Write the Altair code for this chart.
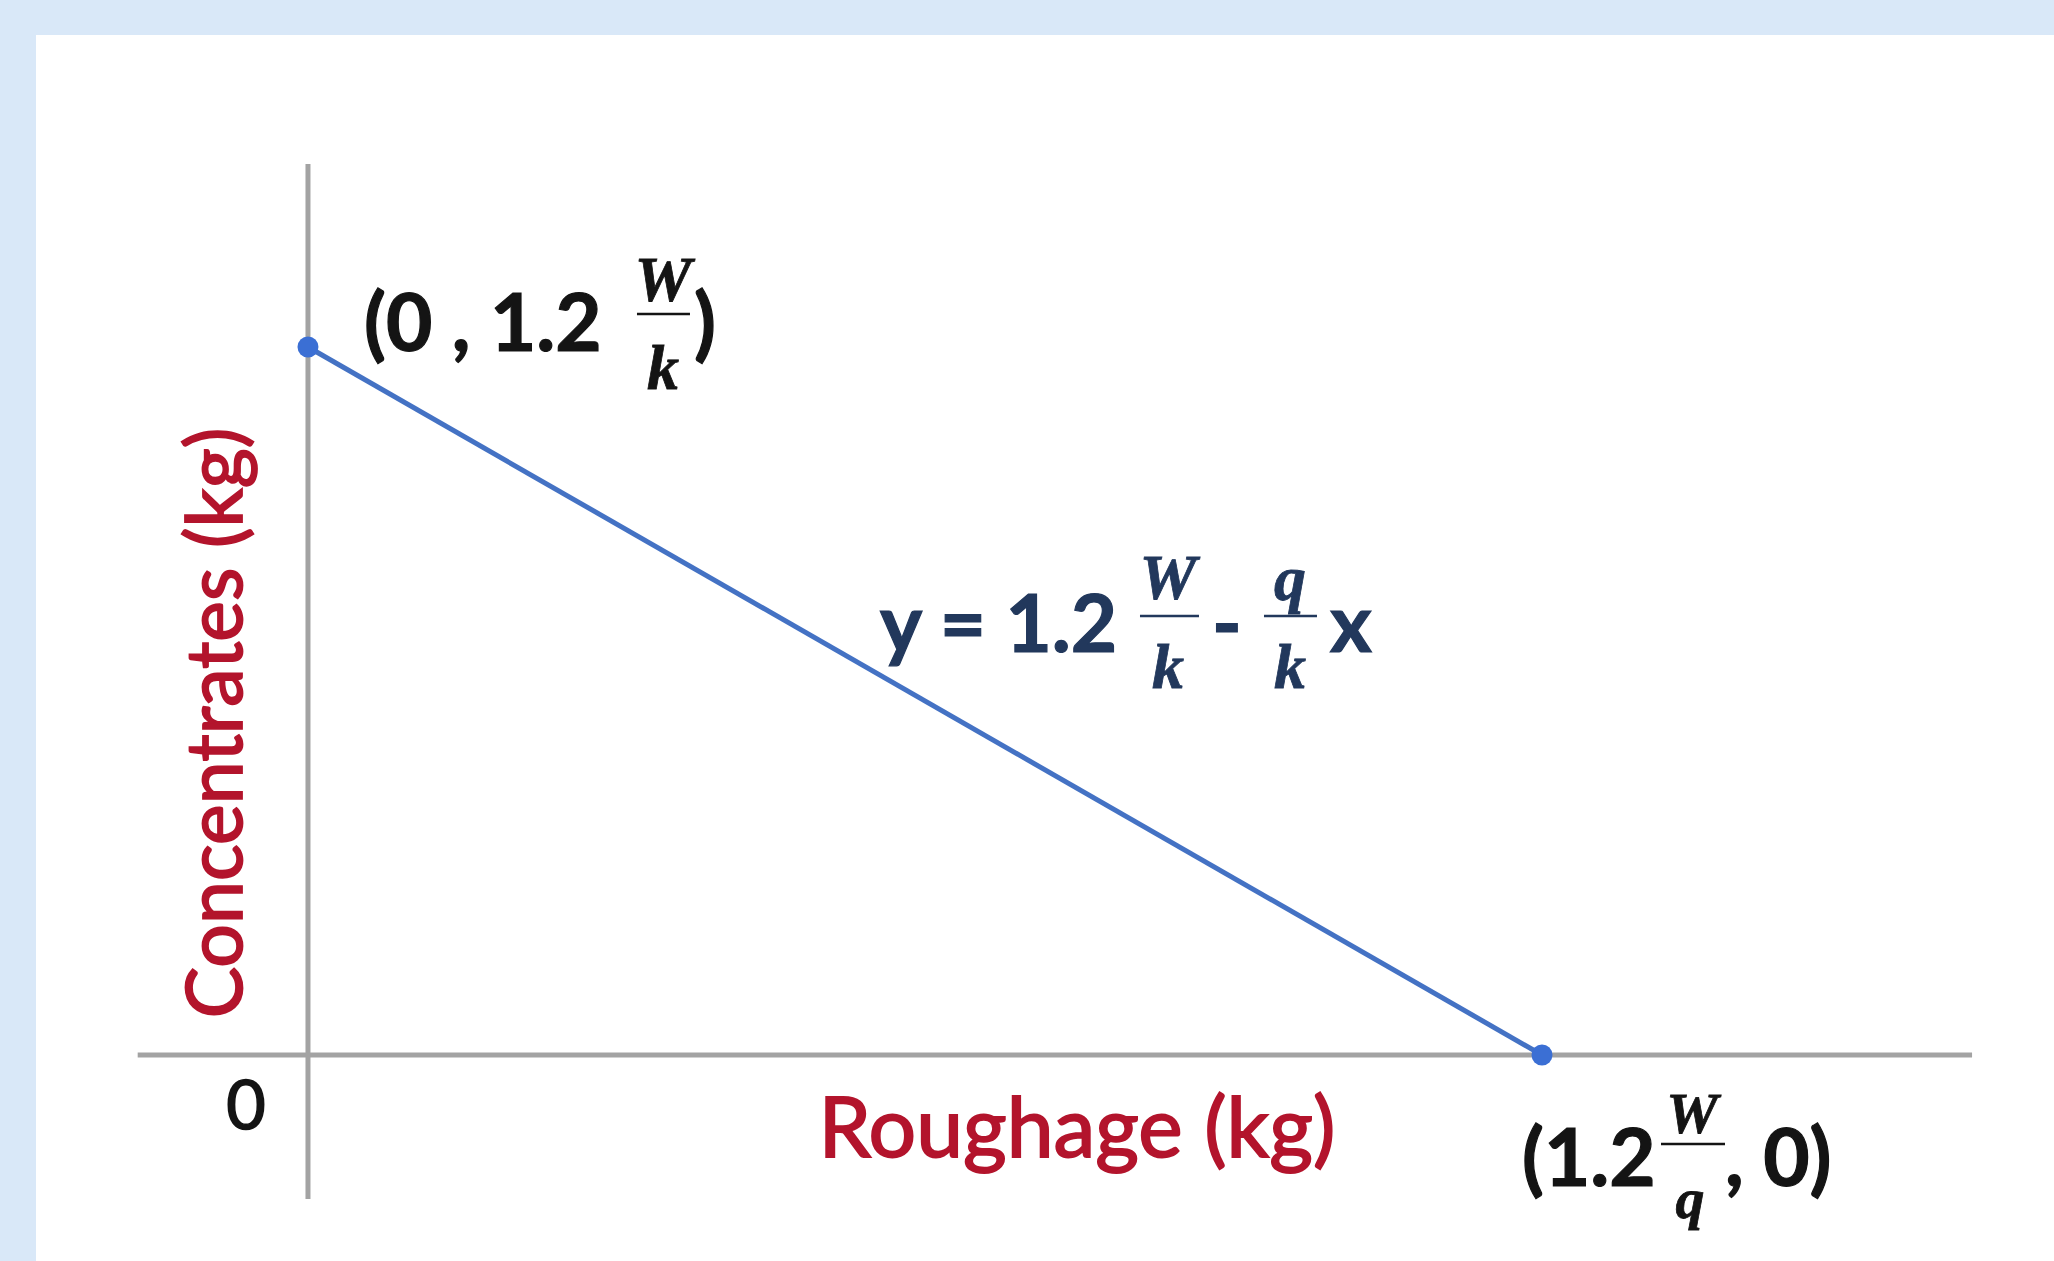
import altair as alt
import pandas as pd

# Budget line between roughage and concentrates, in units of the intercepts
# (0, 1.2·W/k) and (1.2·W/q, 0).
roughage_kg = [0.0, 1.0]
concentrates_kg = [1.0, 0.0]

# Extent of the two drawn axis lines (data units)
x_axis_span = [-0.138, 1.3485]
y_axis_span = [-0.2034, 1.2585]

X_DOMAIN = [-0.2204, 1.4149]
Y_DOMAIN = [-0.2910, 1.4407]

SANS = "Lato"
SERIF = "Liberation Serif"
BLACK = "#141414"
NAVY = "#22385c"
RED = "#b3142c"
BLUE = "#4472c4"
GREY = "#a3a3a3"

xs = alt.Scale(domain=X_DOMAIN, nice=False, zero=False)
ys = alt.Scale(domain=Y_DOMAIN, nice=False, zero=False)


def xenc():
    return alt.X("x:Q", scale=xs, axis=None)


def yenc():
    return alt.Y("y:Q", scale=ys, axis=None)


def point_df(px, py, text=""):
    return pd.DataFrame({"x": [px], "y": [py], "t": [text]})


def label(anchor, text, dx, dy, size, color=BLACK, font=SANS, weight="bold",
          style="normal", align="left", angle=0, heavy=1.2):
    return alt.Chart(point_df(anchor[0], anchor[1], text)).mark_text(
        dx=dx, dy=dy, fontSize=size, font=font, fontWeight=weight,
        fontStyle=style, color=color, align=align, baseline="alphabetic",
        angle=angle, stroke=color, strokeWidth=heavy,
    ).encode(x=xenc(), y=yenc(), text="t:N")


def frac_bar(anchor, dx1, dx2, dy, color=BLACK):
    return alt.Chart(point_df(anchor[0], anchor[1])).mark_rule(
        color=color, strokeWidth=2.5, xOffset=dx1, x2Offset=dx2, yOffset=dy,
    ).encode(x=xenc(), x2=alt.X2("x"), y=yenc())


def symbol(anchor, text, dx, dy, size, color=BLACK):
    return label(anchor, text, dx, dy, size, color=color, font=SERIF,
                 weight="bold", style="italic", align="center", heavy=0.8)


line_df = pd.DataFrame({"x": roughage_kg, "y": concentrates_kg})
origin = (0.0, 0.0)
top_pt = (roughage_kg[0], concentrates_kg[0])
end_pt = (roughage_kg[1], concentrates_kg[1])
mid_pt = ((roughage_kg[0] + roughage_kg[1]) / 2, (concentrates_kg[0] + concentrates_kg[1]) / 2)

# Axis lines crossing at the origin
h_axis = alt.Chart(pd.DataFrame({"x": [x_axis_span[0]], "x2": [x_axis_span[1]], "y": [0.0]})).mark_rule(
    color=GREY, strokeWidth=5
).encode(x=xenc(), x2="x2:Q", y=yenc())
v_axis = alt.Chart(pd.DataFrame({"y": [y_axis_span[0]], "y2": [y_axis_span[1]], "x": [0.0]})).mark_rule(
    color=GREY, strokeWidth=5
).encode(x=xenc(), y=yenc(), y2="y2:Q")

budget_line = alt.Chart(line_df).mark_line(color=BLUE, strokeWidth=5).encode(x=xenc(), y=yenc())
budget_pts = alt.Chart(line_df).mark_circle(color="#3b6fd4", size=440, opacity=1).encode(x=xenc(), y=yenc())

layers = [h_axis, v_axis, budget_line, budget_pts]

# Axis titles and zero
layers += [
    label(origin, "0", -62, 74, 68, weight="normal", align="center", heavy=1.6),
    label(origin, "Roughage (kg)", 769, 102, 84, color=RED, weight="normal", align="center", heavy=1.8),
    label(origin, "Concentrates (kg)", 332, -66, 77, color=RED, weight="normal",
          align="center", angle=270, heavy=1.8),
]

# (0 , 1.2 W/k)
layers += [
    label(top_pt, "(0 , 1.2", 56, 4, 80),
    symbol(top_pt, "W", 355, -46, 64),
    frac_bar(top_pt, 329, 382, -33),
    symbol(top_pt, "k", 355, 42, 64),
    label(top_pt, ")", 386, 4, 80),
]

# y = 1.2 W/k - q/k x
layers += [
    label(mid_pt, "y = 1.2", -45, -49, 80, color=NAVY),
    symbol(mid_pt, "W", 243, -102, 64, color=NAVY),
    frac_bar(mid_pt, 215, 274, -85, color=NAVY),
    symbol(mid_pt, "k", 243, -13, 64, color=NAVY),
    label(mid_pt, "-", 302, -49, 80, color=NAVY, align="center"),
    symbol(mid_pt, "q", 365, -101, 64, color=NAVY),
    frac_bar(mid_pt, 339, 392, -85, color=NAVY),
    symbol(mid_pt, "k", 365, -13, 64, color=NAVY),
    label(mid_pt, "x", 426, -49, 80, color=NAVY, align="center"),
]

# (1.2 W/q, 0)
layers += [
    label(end_pt, "(1.2", -20, 131, 80),
    symbol(end_pt, "W", 150, 78, 58),
    frac_bar(end_pt, 119, 183, 89),
    symbol(end_pt, "q", 148, 163, 58),
    label(end_pt, ", 0)", 183, 131, 80),
]

chart = alt.layer(*layers).properties(
    width=2018,
    height=1226,
    padding={"left": 36, "top": 35, "right": 0, "bottom": 0},
    background="#d9e8f8",
    autosize=alt.AutoSizeParams(type="none"),
).configure_view(stroke=None, fill="white")

chart.save("out.html", embed_options={"renderer": "svg", "actions": False})
